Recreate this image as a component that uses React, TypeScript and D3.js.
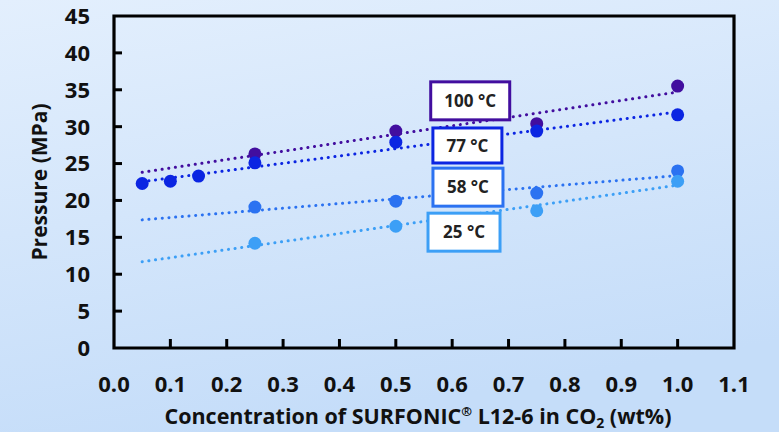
import React from 'react';
import * as d3 from 'd3';

// series data (x = wt%, y = MPa)
const series = ['100 °C', '77 °C', '58 °C', '25 °C'];
const x100 = [0.25, 0.5, 0.75, 1.0];
const y100 = [26.3, 29.4, 30.4, 35.5];
const x77 = [0.05, 0.1, 0.15, 0.25, 0.5, 0.75, 1.0];
const y77 = [22.3, 22.6, 23.3, 25.1, 27.9, 29.4, 31.6];
const x58 = [0.25, 0.5, 0.75, 1.0];
const y58 = [19.1, 19.9, 21.0, 24.0];
const x25 = [0.25, 0.5, 0.75, 1.0];
const y25 = [14.2, 16.5, 18.6, 22.6];

const xTicks = [0, 0.1, 0.2, 0.3, 0.4, 0.5, 0.6, 0.7, 0.8, 0.9, 1.0, 1.1];
const yTicks = [0, 5, 10, 15, 20, 25, 30, 35, 40, 45];

const colors = ['#420e9f', '#0b25e2', '#2b72f1', '#3c9ff6'];

const width = 779;
const height = 432;
const margin = { top: 16, right: 45, bottom: 84, left: 114 };

// linear least-squares trendline, as Excel draws it
const fit = (xs: number[], ys: number[]) => {
  const mx = d3.mean(xs) as number;
  const my = d3.mean(ys) as number;
  const sxy = d3.sum(xs, (x, i) => (x - mx) * (ys[i] - my));
  const sxx = d3.sum(xs, (x) => (x - mx) * (x - mx));
  const b = sxy / sxx;
  return (x: number) => my + b * (x - mx);
};

const App = () => {
  const x = d3.scaleLinear().domain([0, 1.1]).range([margin.left, width - margin.right]);
  const y = d3.scaleLinear().domain([0, 45]).range([height - margin.bottom, margin.top]);

  const all = [
    { name: series[0], xs: x100, ys: y100, color: colors[0] },
    { name: series[1], xs: x77, ys: y77, color: colors[1] },
    { name: series[2], xs: x58, ys: y58, color: colors[2] },
    { name: series[3], xs: x25, ys: y25, color: colors[3] },
  ];

  // label boxes, placed in data units
  const labelPos = [
    { cx: 0.632, cy: 33.5, w: 79, h: 38 },
    { cx: 0.627, cy: 27.45, w: 69, h: 35 },
    { cx: 0.628, cy: 21.8, w: 70, h: 38 },
    { cx: 0.621, cy: 15.7, w: 72, h: 38 },
  ];

  const line = d3
    .line<number>()
    .x((d) => x(d[0]))
    .y((d) => y(d[1]));

  const font = "'Open Sans', 'DejaVu Sans', sans-serif";
  const x0 = x.range()[0];
  const x1 = x.range()[1];
  const yb = y.range()[0];
  const yt = y.range()[1];

  return (
    <svg width={width} height={height} style={{ position: 'absolute', left: 0, top: 0 }} fontFamily={font}>
      <defs>
        <linearGradient id="bg" x1="0" y1="0" x2="0.3" y2="1">
          <stop offset="0" stopColor="#e3effd" />
          <stop offset="1" stopColor="#c5ddf9" />
        </linearGradient>
      </defs>
      <rect width={width} height={height} fill="url(#bg)" />

      {/* trendlines */}
      {all.map((s) => {
        const f = fit(s.xs, s.ys);
        const pts: any = [
          [0.05, f(0.05)],
          [1.0, f(1.0)],
        ];
        return (
          <path
            key={'t' + s.name}
            d={line(pts) as string}
            fill="none"
            stroke={s.color}
            strokeWidth={3}
            strokeLinecap="round"
            strokeDasharray="0.1 6.6"
          />
        );
      })}

      {/* points */}
      {all.map((s) =>
        s.xs.map((v, i) => (
          <circle key={s.name + i} cx={x(v)} cy={y(s.ys[i])} r={6.5} fill={s.color} />
        ))
      )}

      {/* frame and axes */}
      <path
        d={`M${x0},${yt}H${x1}V${yb}H${x0}Z`}
        fill="none"
        stroke="#000"
        strokeWidth={3.2}
        strokeLinejoin="miter"
      />
      {yTicks.slice(1, -1).map((t) => (
        <line key={'yt' + t} x1={x0} x2={x0 + 8} y1={y(t)} y2={y(t)} stroke="#000" strokeWidth={3} />
      ))}
      {xTicks.slice(1, -1).map((t) => (
        <line key={'xt' + t} x1={x(t)} x2={x(t)} y1={yb} y2={yb - 9} stroke="#000" strokeWidth={3} />
      ))}

      {yTicks.map((t) => (
        <text key={'yl' + t} x={x0 - 24} y={y(t)} dy="0.36em" textAnchor="end" fontSize={22} fontWeight="bold" fill="#111">
          {t}
        </text>
      ))}
      {xTicks.map((t) => (
        <text key={'xl' + t} x={x(t)} y={392} textAnchor="middle" fontSize={22} fontWeight="bold" fill="#111">
          {d3.format('.1f')(t)}
        </text>
      ))}

      <text
        transform={`translate(47,${(yt + yb) / 2}) rotate(-90)`}
        textAnchor="middle"
        fontSize={21}
        fontWeight="bold"
        fill="#111"
      >
        Pressure (MPa)
      </text>
      <text x={418} y={424} textAnchor="middle" fontSize={21.5} fontWeight="bold" fill="#111">
        Concentration of SURFONIC
        <tspan fontSize={13} dy={-8}>®</tspan>
        <tspan dy={8}> L12-6 in CO</tspan>
        <tspan fontSize={14} dy={4}>2</tspan>
        <tspan dy={-4}> (wt%)</tspan>
      </text>

      {/* series labels */}
      {all.map((s, i) => {
        const p = labelPos[i];
        return (
          <g key={'lb' + s.name}>
            <rect
              x={x(p.cx) - p.w / 2}
              y={y(p.cy) - p.h / 2}
              width={p.w}
              height={p.h}
              fill="#fff"
              stroke={s.color}
              strokeWidth={3}
            />
            <text x={x(p.cx)} y={y(p.cy)} dy="0.36em" textAnchor="middle" fontSize={17} fontWeight="bold" fill="#222">
              {s.name}
            </text>
          </g>
        );
      })}
    </svg>
  );
};

export default App;
